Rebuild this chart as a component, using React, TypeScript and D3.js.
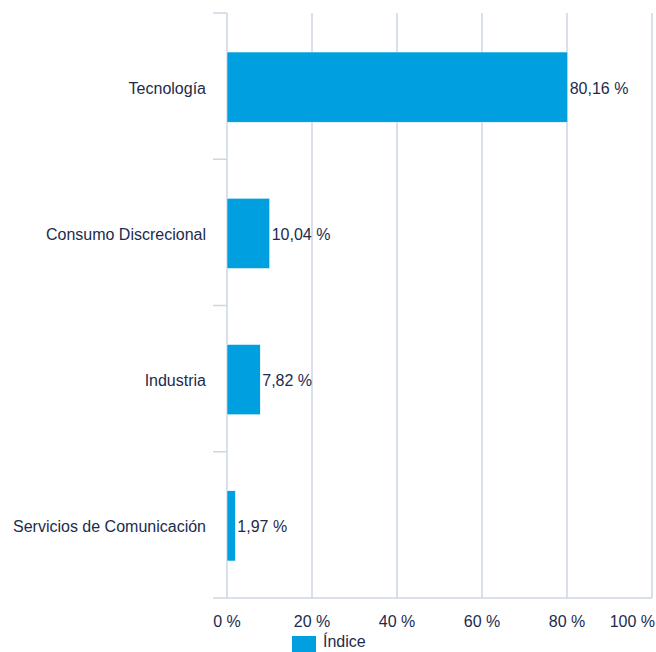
import React from "react";
import * as d3 from "d3";

const categories = ["Tecnología", "Consumo Discrecional", "Industria", "Servicios de Comunicación"];
const values = [80.16, 10.04, 7.82, 1.97];
const xTicks = [0, 20, 40, 60, 80, 100];
const seriesName = "Índice";

const W = 656;
const H = 652;
const M = { left: 227, right: 4, top: 13, bottom: 54 };
const GRID = "#ccd6e4";
const BAR = "#009fdf";
const TEXT = "#1c2b4e";
const FONT = "'Liberation Sans', Arial, Helvetica, sans-serif";
const FS = 16;

const fmt = (v: number) => v.toFixed(2).replace(".", ",") + " %";

export default function App() {
  const x = d3.scaleLinear().domain([0, 100]).range([M.left, W - M.right]);
  const y = d3.scaleBand<string>().domain(categories).range([M.top, H - M.bottom]).paddingInner(0.52).paddingOuter(0.26);
  const band = d3.scaleBand<string>().domain(categories).range([M.top, H - M.bottom]);
  const y0 = M.top;
  const y1 = H - M.bottom;
  const bounds = categories.map((c) => band(c)!).concat([y1]);

  return (
    <svg width={W} height={H} style={{ position: "absolute", left: 0, top: 0 }} fontFamily={FONT}>
      {xTicks.map((t) => (
        <line key={"g" + t} x1={x(t)} x2={x(t)} y1={y0} y2={y1} stroke={GRID} strokeWidth={1.5} />
      ))}
      {bounds.map((b, i) => (
        <line key={"t" + i} x1={M.left - 14} x2={M.left} y1={b} y2={b} stroke={GRID} strokeWidth={1.5} />
      ))}
      <line x1={M.left} x2={W - M.right} y1={y1} y2={y1} stroke={GRID} strokeWidth={1.5} />
      {categories.map((c, i) => (
        <g key={c}>
          <rect
            x={x(0)}
            y={y(c)! + 1}
            width={x(values[i]) - x(0)}
            height={y.bandwidth()}
            fill={BAR}
            stroke="#ffffff"
            strokeWidth={0.5}
          />
          <text x={x(values[i]) + 2} y={y(c)! + y.bandwidth() / 2 + 2} dy="0.35em" fontSize={FS} fill={TEXT}>
            {fmt(values[i])}
          </text>
          <text x={M.left - 21} y={band(c)! + band.bandwidth() / 2 + 2} dy="0.35em" fontSize={FS} fill={TEXT} textAnchor="end">
            {c}
          </text>
        </g>
      ))}
      {xTicks.map((t, i) => (
        <text
          key={"l" + t}
          x={i === xTicks.length - 1 ? W - 1 : x(t)}
          y={621}
          dy="0.35em"
          fontSize={FS}
          fill={TEXT}
          textAnchor={i === xTicks.length - 1 ? "end" : "middle"}
        >
          {t + " %"}
        </text>
      ))}
      <rect x={292} y={636} width={24} height={16} fill={BAR} />
      <text x={323} y={647} fontSize={FS} fill={TEXT}>
        {seriesName}
      </text>
    </svg>
  );
}
